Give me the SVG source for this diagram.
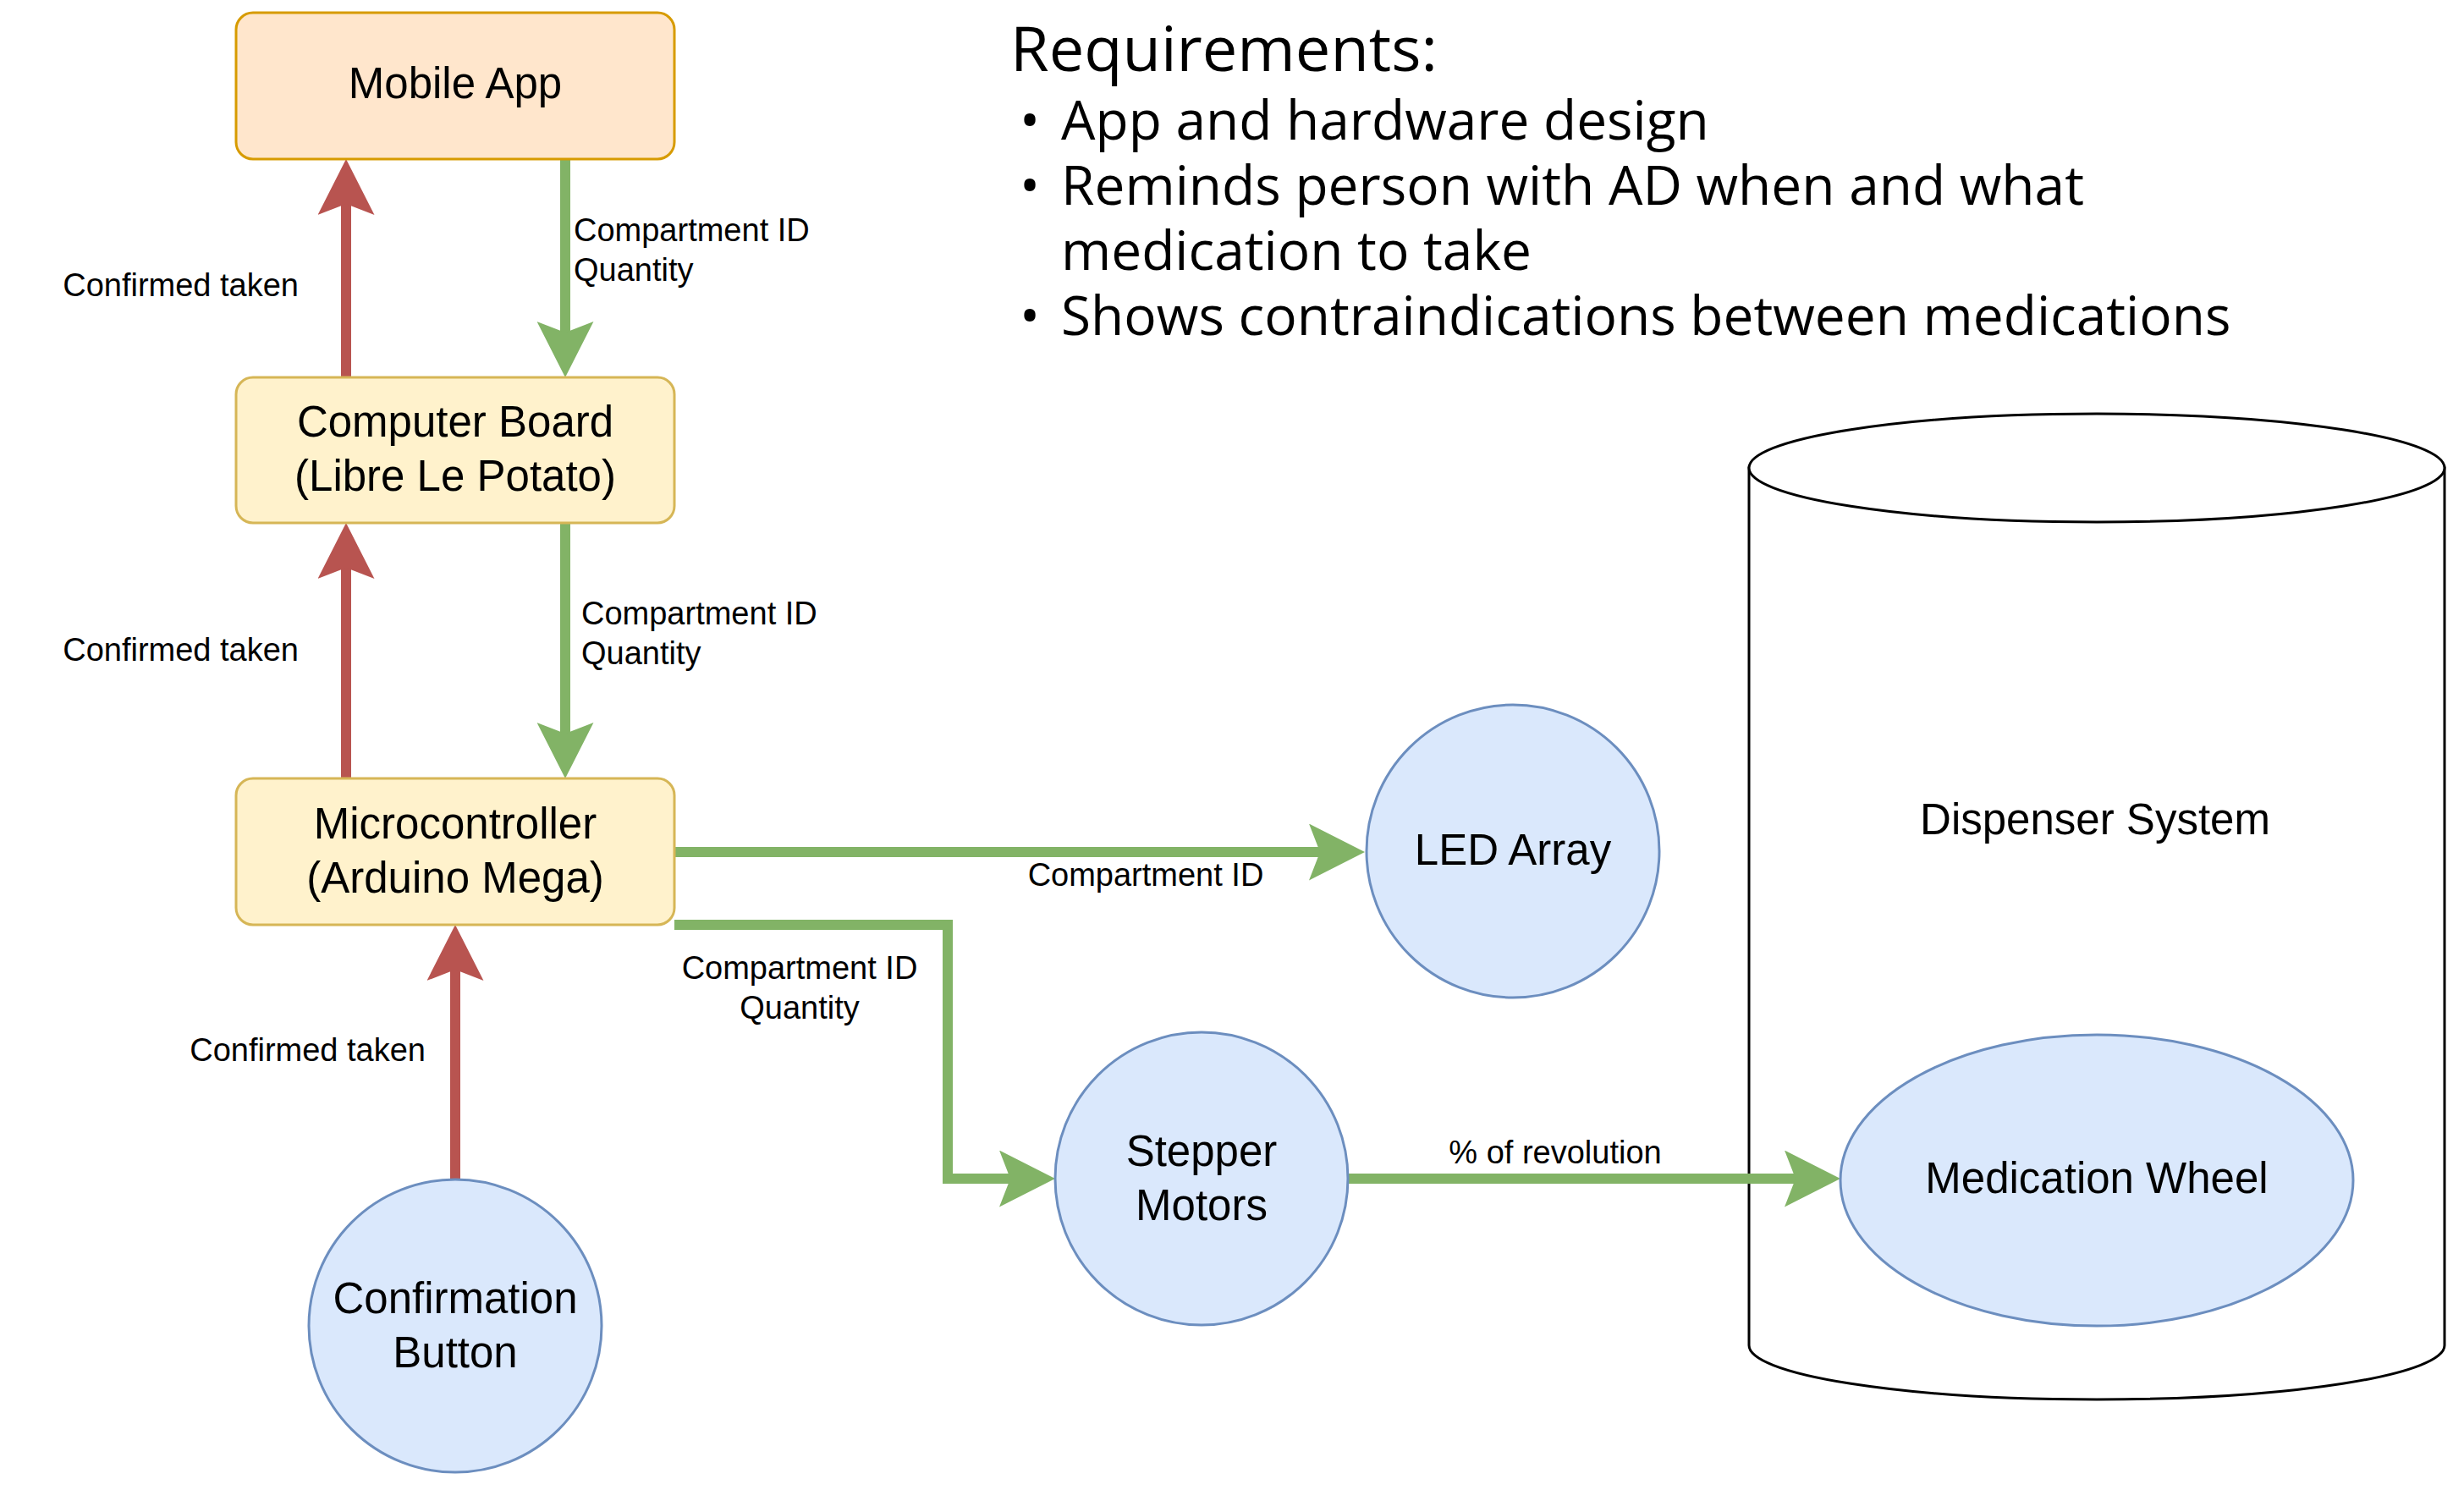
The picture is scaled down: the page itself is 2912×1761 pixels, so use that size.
<svg xmlns="http://www.w3.org/2000/svg" width="2912" height="1761" viewBox="0 0 2912 1761">
  <style>
    .lbl { font-family: "Liberation Sans", Arial, sans-serif; font-size: 51px; fill: #000; text-anchor: middle; }
    .elbl { font-family: "Liberation Sans", Arial, sans-serif; font-size: 38px; fill: #000; }
    .req { font-family: "Open Sans", "Noto Sans", sans-serif; fill: #000; }
    .rect-orange { fill: #ffe6cc; stroke: #d79b00; stroke-width: 3; }
    .rect-yellow { fill: #fff2cc; stroke: #d6b656; stroke-width: 3; }
    .blue { fill: #dae8fc; stroke: #6c8ebf; stroke-width: 3; }
    .red { fill: none; stroke: #b85450; stroke-width: 12; marker-end: url(#arrRed); }
    .green { fill: none; stroke: #82b366; stroke-width: 12; marker-end: url(#arrGreen); }
  </style>
  <defs>
    <marker id="arrRed" viewBox="0 0 66 67" markerUnits="userSpaceOnUse" markerWidth="66" markerHeight="67" refX="13" refY="33.5" orient="auto">
      <path d="M0,0 L66,33.5 L0,67 L13,33.5 Z" fill="#b85450"/>
    </marker>
    <marker id="arrGreen" viewBox="0 0 66 67" markerUnits="userSpaceOnUse" markerWidth="66" markerHeight="67" refX="13" refY="33.5" orient="auto">
      <path d="M0,0 L66,33.5 L0,67 L13,33.5 Z" fill="#82b366"/>
    </marker>
  </defs>
  <rect width="2912" height="1761" fill="#ffffff"/>

  <!-- Requirements list -->
  <g id="requirements">
    <text class="req" font-size="64">
      <tspan x="1194" y="84" font-size="74">Requirements:</tspan>
      <tspan x="1205" y="165">•</tspan><tspan x="1254" y="165">App and hardware design</tspan>
      <tspan x="1205" y="242">•</tspan><tspan x="1254" y="242">Reminds person with AD when and what</tspan>
      <tspan x="1254" y="319">medication to take</tspan>
      <tspan x="1205" y="396">•</tspan><tspan x="1254" y="396">Shows contraindications between medications</tspan>
    </text>
  </g>

  <!-- Dispenser system container -->
  <g id="dispenser-system">
    <path d="M2067,553 L2067,1590 A411,64 0 0 0 2889,1590 L2889,553 Z" fill="#ffffff" stroke="#000" stroke-width="3"/>
    <ellipse cx="2478" cy="553" rx="411" ry="64" fill="#ffffff" stroke="#000" stroke-width="3"/>
    <text class="lbl" x="2476" y="986">Dispenser System</text>
  </g>

  <!-- Connectors -->
  <g id="connectors">
    <path class="red" d="M409,446 V241"/>
    <path class="green" d="M668,188 V393"/>
    <path class="red" d="M409,920 V671"/>
    <path class="green" d="M668,618 V867"/>
    <path class="red" d="M538,1394 V1146"/>
    <path class="green" d="M797,1007 H1560"/>
    <path class="green" d="M797,1093 H1120 V1393 H1194"/>
    <path class="green" d="M1593,1393 H2122"/>

    <text class="elbl" x="353" y="350" text-anchor="end">Confirmed taken</text>
    <text class="elbl" x="678" y="285">Compartment ID</text>
    <text class="elbl" x="678" y="332">Quantity</text>
    <text class="elbl" x="353" y="781" text-anchor="end">Confirmed taken</text>
    <text class="elbl" x="687" y="738">Compartment ID</text>
    <text class="elbl" x="687" y="785">Quantity</text>
    <text class="elbl" x="503" y="1254" text-anchor="end">Confirmed taken</text>
    <text class="elbl" x="945" y="1157" text-anchor="middle">Compartment ID</text>
    <text class="elbl" x="945" y="1204" text-anchor="middle">Quantity</text>
    <text class="elbl" x="1354" y="1047" text-anchor="middle">Compartment ID</text>
    <text class="elbl" x="1838" y="1375" text-anchor="middle">% of revolution</text>
  </g>

  <!-- Nodes -->
  <g id="mobile-app">
    <rect class="rect-orange" x="279" y="15" width="518" height="173" rx="20"/>
    <text class="lbl" x="538" y="116">Mobile App</text>
  </g>
  <g id="computer-board">
    <rect class="rect-yellow" x="279" y="446" width="518" height="172" rx="20"/>
    <text class="lbl" x="538" y="516">Computer Board</text>
    <text class="lbl" x="538" y="580">(Libre Le Potato)</text>
  </g>
  <g id="microcontroller">
    <rect class="rect-yellow" x="279" y="920" width="518" height="173" rx="20"/>
    <text class="lbl" x="538" y="991">Microcontroller</text>
    <text class="lbl" x="538" y="1055">(Arduino Mega)</text>
  </g>
  <g id="confirmation-button">
    <circle class="blue" cx="538" cy="1567" r="173"/>
    <text class="lbl" x="538" y="1552">Confirmation</text>
    <text class="lbl" x="538" y="1616">Button</text>
  </g>
  <g id="led-array">
    <circle class="blue" cx="1788" cy="1006" r="173"/>
    <text class="lbl" x="1788" y="1022">LED Array</text>
  </g>
  <g id="stepper-motors">
    <circle class="blue" cx="1420" cy="1393" r="173"/>
    <text class="lbl" x="1420" y="1378">Stepper</text>
    <text class="lbl" x="1420" y="1442">Motors</text>
  </g>
  <g id="medication-wheel">
    <ellipse class="blue" cx="2478" cy="1395" rx="303" ry="172"/>
    <text class="lbl" x="2478" y="1410">Medication Wheel</text>
  </g>
</svg>
